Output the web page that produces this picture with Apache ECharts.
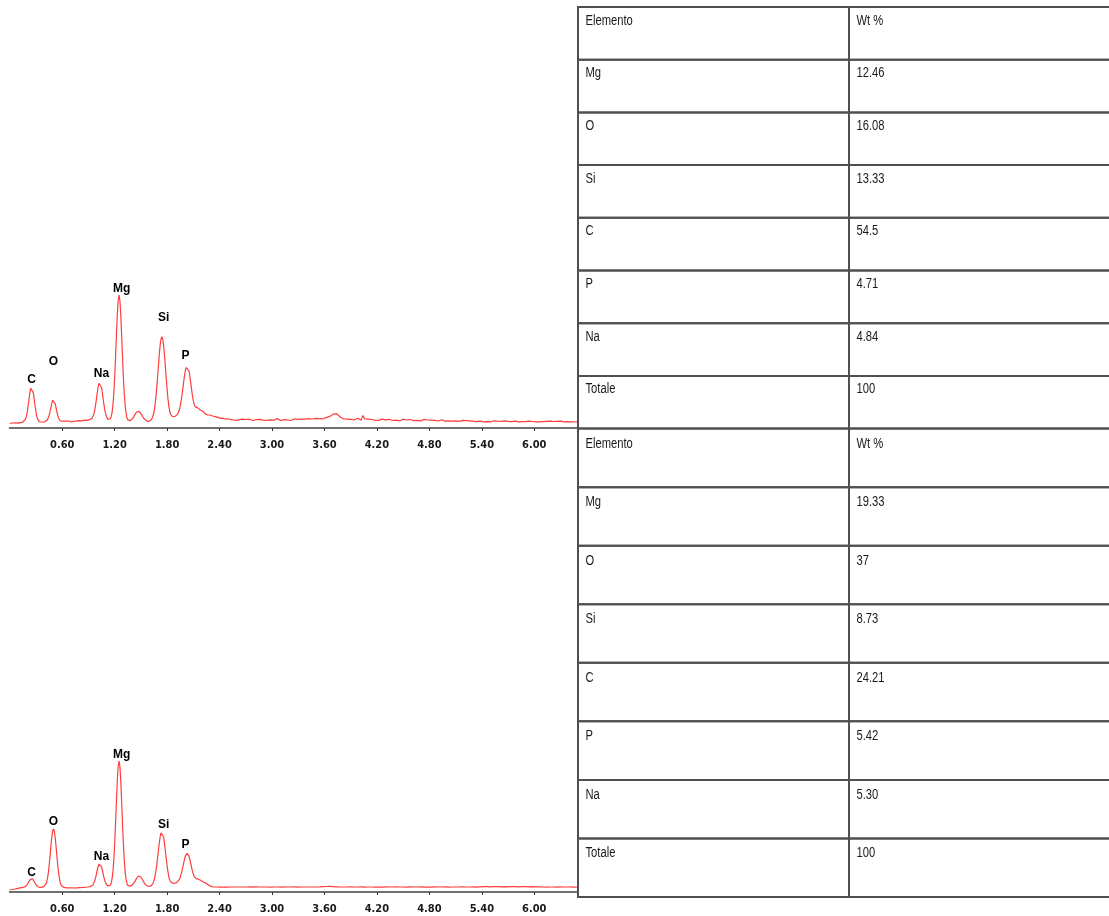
<!DOCTYPE html>
<html>
<head>
<meta charset="utf-8">
<script src="https://cdn.jsdelivr.net/npm/echarts@6/dist/echarts.min.js"></script>
<style>
  html, body { margin: 0; padding: 0; background: #ffffff; }
  #chart { width: 1109px; height: 916px; }
</style>
</head>
<body>
<div id="chart"></div>
<script>
// EDS spectra (counts vs. energy in keV) and the matching Wt % tables.

// Channel layout: 0.00-2.60 keV every 0.01 keV, then 2.62-6.50 keV every 0.02 keV.
const lowStart = 0.0, lowStep = 0.01;
const highStart = 2.62, highStep = 0.02;

// Spectrum 1 counts, one line per 0.1 keV
const spec1Low = [
  4.5, 4.8, 4.3, 5.0, 4.6, 4.9, 5.2, 4.7, 5.0, 4.8,
  5.3, 5.1, 5.4, 5.0, 5.6, 5.8, 6.2, 7.1, 8.8, 11.7,
  16.1, 22.0, 28.7, 35.1, 39.8, 41.5, 39.8, 35.1, 28.7, 22.0,
  16.1, 11.7, 8.8, 7.1, 6.2, 5.8, 5.5, 6.0, 5.6, 5.9,
  6.2, 5.8, 7.0, 8.0, 9.8, 12.5, 16.1, 20.2, 24.1, 27.8,
  26.0, 28.0, 24.1, 20.2, 16.1, 12.5, 9.8, 8.0, 7.0, 6.4,
  6.2, 6.8, 6.0, 6.5, 6.9, 6.3, 6.6, 7.0, 6.4, 6.8,
  6.2, 6.9, 7.2, 6.6, 6.9, 7.3, 6.8, 7.1, 6.7, 7.4,
  7.0, 7.5, 7.1, 7.6, 7.2, 7.8, 7.4, 7.9, 7.6, 8.0,
  8.2, 8.3, 8.5, 8.8, 9.6, 11.0, 13.3, 16.9, 21.9, 28.0,
  34.5, 40.5, 44.7, 46.3, 44.7, 40.5, 34.5, 28.0, 21.9, 16.9,
  13.3, 11.0, 8.9, 8.4, 8.4, 9.1, 11.3, 15.4, 22.6, 34.0,
  50.0, 70.4, 92.6, 113.0, 127.7, 133.0, 127.7, 113.0, 92.6, 70.4,
  50.0, 34.0, 22.6, 15.4, 10.3, 8.1, 7.1, 6.8, 7.4, 8.0,
  8.8, 10.0, 11.4, 13.1, 14.7, 16.0, 17.0, 17.3, 16.6, 16.0,
  14.7, 13.1, 11.4, 10.0, 8.8, 8.0, 7.4, 7.0, 6.7, 6.5,
  6.9, 7.4, 8.2, 9.7, 12.2, 16.0, 21.5, 29.1, 38.6, 49.7,
  61.5, 73.0, 82.6, 89.0, 91.3, 89.0, 82.6, 73.0, 61.5, 49.7,
  38.6, 29.1, 21.5, 16.5, 13.8, 12.3, 11.5, 11.1, 11.3, 11.6,
  11.8, 12.5, 13.7, 15.5, 18.2, 21.9, 26.8, 32.8, 39.4, 46.5,
  53.0, 58.0, 60.5, 61.3, 60.3, 57.2, 51.8, 45.1, 38.6, 32.0,
  27.1, 23.6, 21.4, 20.6, 20.9, 20.1, 19.7, 19.1, 18.0, 17.5,
  16.4, 16.8, 15.2, 14.6, 14.9, 13.8, 13.2, 13.6, 12.5, 13.0,
  12.1, 11.6, 12.0, 11.2, 10.8, 11.3, 10.5, 10.1, 10.6, 9.8,
  10.2, 9.6, 9.9, 9.3, 9.8, 9.1, 9.5, 8.8, 9.4, 8.7,
  9.2, 8.5, 9.0, 8.3, 9.1, 8.4, 8.0, 8.8, 8.1, 7.6,
  8.4
];
// Spectrum 1 counts, 2.62-6.50 keV, one line per 0.4 keV
const spec1High = [
  8.2, 7.6, 8.9, 7.9, 8.5, 7.4, 8.8, 8.0, 7.5, 9.1, 8.3, 7.7, 8.6, 9.3, 7.9, 8.4, 7.6, 9.0, 8.2, 8.8,
  7.8, 8.6, 9.4, 8.1, 7.5, 8.9, 8.3, 9.6, 7.9, 8.4, 7.7, 8.8, 9.2, 8.0, 8.6, 7.6, 9.0, 8.3, 8.9, 8.1,
  9.3, 8.5, 9.0, 8.2, 9.6, 8.8, 9.4, 10.0, 9.2, 9.6, 10.4, 10.8, 11.6, 12.6, 13.8, 14.7, 14.3, 12.8, 11.0, 9.8,
  9.0, 8.3, 8.9, 7.8, 8.6, 9.2, 8.0, 8.7, 9.8, 8.4, 7.9, 12.6, 9.1, 8.2, 8.8, 7.7, 8.5, 9.0, 7.9, 8.4,
  7.6, 8.3, 8.9, 7.8, 8.2, 7.4, 8.7, 8.0, 7.5, 8.6, 7.9, 8.3, 7.2, 8.1, 8.8, 7.6, 8.0, 7.3, 8.5, 7.8,
  7.4, 8.2, 7.7, 8.4, 7.1, 7.9, 8.6, 7.5, 8.0, 7.2, 7.8, 9.4, 7.6, 8.1, 7.0, 7.7, 8.3, 7.4, 6.9, 7.8,
  7.2, 7.8, 6.8, 7.5, 7.1, 7.9, 6.7, 7.3, 7.6, 6.9, 7.4, 6.6, 7.2, 7.7, 6.8, 7.0, 6.4, 7.3, 6.9, 6.5,
  6.2, 6.9, 6.4, 7.0, 6.1, 6.6, 7.2, 6.3, 6.8, 6.0, 6.7, 6.4, 7.1, 6.2, 6.6, 6.9, 6.3, 6.0, 6.8, 6.5,
  6.1, 6.7, 6.3, 7.0, 6.4, 6.0, 6.8, 7.3, 6.5, 6.9, 6.2, 6.6, 6.1, 6.8, 6.4, 6.0, 6.7, 6.3, 6.9, 6.2,
  6.5, 6.0, 6.7, 6.2, 6.9, 6.4, 6.1, 6.6, 6.3, 6.8, 6.2, 6.5, 6.0, 6.6, 6.3
];

// Spectrum 2 counts, one line per 0.1 keV
const spec2Low = [
  2.2, 2.3, 2.4, 2.5, 2.6, 2.8, 3.0, 3.2, 3.4, 3.6,
  3.8, 4.0, 4.1, 4.2, 4.3, 4.6, 4.7, 4.9, 5.3, 6.1,
  7.2, 8.7, 10.4, 12.1, 13.3, 13.7, 13.3, 12.1, 10.4, 8.7,
  7.2, 6.1, 5.3, 4.9, 4.7, 4.6, 4.7, 5.0, 5.2, 5.4,
  6.0, 7.1, 9.2, 12.8, 18.3, 25.9, 35.2, 45.2, 54.2, 60.7,
  63.0, 60.7, 54.2, 45.2, 35.2, 25.9, 18.3, 12.8, 8.7, 6.6,
  5.5, 4.9, 4.6, 4.4, 4.3, 4.2, 4.2, 4.1, 4.1, 4.0,
  4.0, 4.1, 4.1, 4.0, 4.0, 4.1, 4.2, 4.2, 4.3, 4.3,
  4.4, 4.4, 4.5, 4.5, 4.6, 4.6, 4.7, 4.8, 4.9, 5.0,
  5.1, 5.2, 5.4, 5.6, 6.1, 6.9, 8.4, 10.6, 13.7, 17.4,
  21.5, 25.2, 27.8, 28.7, 27.8, 25.2, 21.5, 17.4, 13.7, 10.6,
  8.4, 6.9, 6.2, 5.9, 5.9, 6.6, 8.8, 12.9, 20.1, 31.6,
  47.7, 68.1, 90.4, 111.0, 125.7, 131.0, 125.7, 111.0, 90.4, 68.1,
  47.7, 31.6, 20.1, 12.9, 8.8, 6.6, 5.6, 5.3, 5.8, 6.2,
  6.8, 7.7, 8.9, 10.3, 12.0, 13.6, 15.0, 16.0, 16.3, 16.0,
  15.0, 13.6, 12.0, 10.3, 8.9, 7.7, 6.8, 6.2, 5.8, 5.5,
  5.6, 5.9, 6.4, 7.4, 9.0, 11.5, 15.1, 20.0, 26.2, 33.5,
  41.2, 48.7, 55.0, 59.2, 60.7, 59.2, 55.0, 48.7, 41.2, 33.5,
  26.2, 20.0, 15.1, 12.0, 10.3, 9.4, 8.9, 8.6, 8.5, 8.6,
  9.0, 9.4, 10.1, 11.1, 12.7, 14.8, 17.6, 21.1, 25.1, 29.2,
  33.1, 36.3, 38.3, 38.7, 38.0, 35.8, 32.5, 28.6, 24.5, 20.8,
  17.7, 15.4, 14.0, 13.3, 13.1, 13.0, 12.8, 12.4, 11.9, 11.3,
  10.7, 10.2, 9.8, 9.4, 9.0, 8.6, 7.9, 7.2, 6.6, 6.1,
  5.7, 5.4, 5.2, 5.1, 5.0, 5.0, 4.9, 5.0, 5.1, 5.0,
  4.9, 4.9, 5.0, 5.0, 5.1, 5.0, 4.9, 5.0, 5.0, 4.9,
  5.0, 5.1, 5.0, 5.0, 4.9, 5.0, 5.0, 5.1, 5.0, 4.9,
  5.0
];
// Spectrum 2 counts, 2.62-6.50 keV, one line per 0.4 keV
const spec2High = [
  5.0, 5.1, 5.0, 4.9, 5.0, 5.0, 5.1, 5.0, 4.9, 5.0, 5.1, 5.0, 5.0, 4.9, 5.0, 5.1, 5.0, 5.0, 4.9, 5.0,
  5.0, 5.1, 5.0, 5.0, 4.9, 5.0, 5.1, 5.0, 5.0, 4.9, 5.0, 5.0, 5.1, 5.0, 4.9, 5.0, 5.0, 5.1, 5.0, 5.0,
  5.0, 4.9, 5.0, 5.1, 5.0, 5.0, 5.1, 5.2, 5.3, 5.4, 5.5, 5.6, 5.6, 5.5, 5.4, 5.3, 5.2, 5.1, 5.0, 5.0,
  5.0, 4.9, 5.0, 5.0, 5.1, 5.0, 5.0, 4.9, 5.0, 5.0, 5.1, 5.0, 4.9, 5.0, 5.0, 5.1, 5.0, 5.0, 4.9, 5.0,
  5.0, 5.0, 4.9, 5.0, 5.1, 5.0, 5.0, 4.9, 5.0, 5.0, 5.1, 5.0, 5.0, 4.9, 5.0, 5.0, 4.9, 5.0, 5.1, 5.0,
  5.0, 4.9, 5.0, 5.0, 5.1, 5.0, 4.9, 5.0, 5.0, 5.0, 4.9, 5.0, 5.1, 5.0, 5.0, 4.9, 5.0, 5.0, 5.1, 5.0,
  4.9, 5.0, 5.0, 5.1, 5.0, 4.9, 5.0, 5.0, 5.1, 5.0, 5.0, 4.9, 5.0, 5.0, 5.1, 5.0, 4.9, 5.0, 5.2, 4.8,
  5.3, 4.7, 5.4, 4.8, 5.2, 4.6, 5.3, 4.9, 5.4, 4.7, 5.1, 4.8, 5.3, 4.6, 5.2, 4.9, 5.4, 4.7, 5.3, 4.8,
  5.2, 4.6, 5.3, 4.9, 5.4, 4.7, 5.2, 4.8, 5.3, 4.6, 5.1, 4.9, 5.2, 4.8, 5.0, 5.1, 4.9, 5.0, 5.0, 4.9,
  5.0, 5.0, 4.9, 5.0, 5.1, 5.0, 5.0, 4.9, 5.0, 5.0, 5.1, 5.0, 4.9, 5.0, 5.0
];

// Element markers: line energy (keV) and marker height (counts) on each spectrum
const peakNames = ['C', 'O', 'Na', 'Mg', 'Si', 'P'];
const peakEnergy = [0.25, 0.50, 1.05, 1.28, 1.76, 2.01];
const markerHeight1 = [48, 66, 54, 139, 110, 72];
const markerHeight2 = [19, 70, 35, 137, 67, 47];

// Energy axis tick labels
const energyTicks = [0.6, 1.2, 1.8, 2.4, 3.0, 3.6, 4.2, 4.8, 5.4, 6.0];

// Composition tables
const tableHeader = ['Elemento', 'Wt %'];
const elements1 = ['Mg', 'O', 'Si', 'C', 'P', 'Na', 'Totale'];
const wt1 = ['12.46', '16.08', '13.33', '54.5', '4.71', '4.84', '100'];
const elements2 = ['Mg', 'O', 'Si', 'C', 'P', 'Na', 'Totale'];
const wt2 = ['19.33', '37', '8.73', '24.21', '5.42', '5.30', '100'];

// ---------------------------------------------------------------------------

function channels(counts, start, step) {
  return counts.map((c, i) => [+(start + i * step).toFixed(2), c]);
}
function spectrum(low, high) {
  return channels(low, lowStart, lowStep).concat(channels(high, highStart, highStep));
}
function markers(heights) {
  return peakEnergy.map((e, i) => ({ value: [e, heights[i]], name: peakNames[i] }));
}
function tableCells(elements, wts) {
  const rows = [tableHeader[0]].concat(elements);
  const vals = [tableHeader[1]].concat(wts);
  const data = [], texts = [];
  rows.forEach((r, i) => {
    data.push([0, i]); texts.push(r);
    data.push([1, i]); texts.push(vals[i]);
  });
  return { rows, data, texts };
}

const table1 = tableCells(elements1, wt1);
const table2 = tableCells(elements2, wt2);

const PLOT_RIGHT = 531;    // spectra end at the table's left border
const TABLE_LEFT = 578;
const COLUMN_WIDTH = 271;  // second column runs past the right edge of the page
const VISIBLE_COLUMNS = (1109 - TABLE_LEFT) / COLUMN_WIDTH;

function energyAxis(gridIndex) {
  return {
    type: 'value', gridIndex, min: 0, max: 6.5, interval: 0.6,
    axisLine: { show: true, onZero: false, lineStyle: { color: '#6f6f6f', width: 2 } },
    axisTick: { show: true, length: 3, customValues: energyTicks, lineStyle: { color: '#333', width: 1 } },
    axisLabel: {
      customValues: energyTicks,
      formatter: v => v.toFixed(2),
      margin: 12,
      fontFamily: '"DejaVu Sans Condensed", sans-serif',
      fontWeight: 'bold', fontSize: 11, color: '#1a1a1a'
    },
    splitLine: { show: false }
  };
}
function countsAxis(gridIndex) {
  return { type: 'value', gridIndex, min: 0, max: 150, show: false };
}
function tableXAxis(gridIndex) {
  return { type: 'value', gridIndex, min: 0, max: VISIBLE_COLUMNS, show: false };
}
function tableYAxis(gridIndex, rows) {
  return { type: 'category', gridIndex, data: rows, inverse: true, show: false };
}
function lineSeries(idx, data) {
  return {
    type: 'line', xAxisIndex: idx, yAxisIndex: idx, data,
    showSymbol: false, symbol: 'none', smooth: false, silent: true,
    lineStyle: { color: '#ff3c3c', width: 1.2 }
  };
}
function markerSeries(idx, data) {
  return {
    type: 'scatter', xAxisIndex: idx, yAxisIndex: idx, data,
    symbolSize: 0, silent: true,
    itemStyle: { opacity: 1 },
    label: {
      show: true, position: 'inside', formatter: p => p.name, opacity: 1,
      fontFamily: '"Liberation Sans", Arial, sans-serif', fontWeight: 'bold',
      fontSize: 12, color: '#000', textBorderWidth: 0
    }
  };
}
function tableSeries(idx, table) {
  return {
    type: 'custom', xAxisIndex: idx, yAxisIndex: idx, data: table.data, z: 5, silent: true,
    clip: false,
    renderItem: (params, api) => {
      const c = api.coord([api.value(0), api.value(1)]);
      const s = api.size([1, 1]);
      const x0 = c[0], y0 = c[1] - s[1] / 2;
      return {
        type: 'group',
        children: [
          { type: 'rect', shape: { x: x0, y: y0, width: s[0], height: s[1] },
            style: { fill: 'none', stroke: '#505050', lineWidth: 2 } },
          { type: 'text', x: x0 + 7.5, y: y0 + s[1] * 0.25 + 0.5, scaleX: 0.8,
            style: { text: table.texts[params.dataIndex], x: 0, y: 0,
                     verticalAlign: 'middle', align: 'left', fill: '#1a1a1a',
                     font: '14px "Liberation Sans", Arial, sans-serif' } }
        ]
      };
    }
  };
}

const chart = echarts.init(document.getElementById('chart'), null, { renderer: 'canvas' });
chart.setOption({
  animation: false,
  backgroundColor: '#ffffff',
  grid: [
    { left: 9.75, right: PLOT_RIGHT, top: 278, height: 150 },
    { left: 9.75, right: PLOT_RIGHT, top: 742, height: 150 },
    { left: TABLE_LEFT, right: 0, top: 7, height: 421.6 },
    { left: TABLE_LEFT, right: 0, top: 428.6, height: 468.4 }
  ],
  xAxis: [energyAxis(0), energyAxis(1), tableXAxis(2), tableXAxis(3)],
  yAxis: [countsAxis(0), countsAxis(1), tableYAxis(2, table1.rows), tableYAxis(3, table2.rows)],
  series: [
    lineSeries(0, spectrum(spec1Low, spec1High)),
    lineSeries(1, spectrum(spec2Low, spec2High)),
    markerSeries(0, markers(markerHeight1)),
    markerSeries(1, markers(markerHeight2)),
    tableSeries(2, table1),
    tableSeries(3, table2)
  ]
});
</script>
</body>
</html>
